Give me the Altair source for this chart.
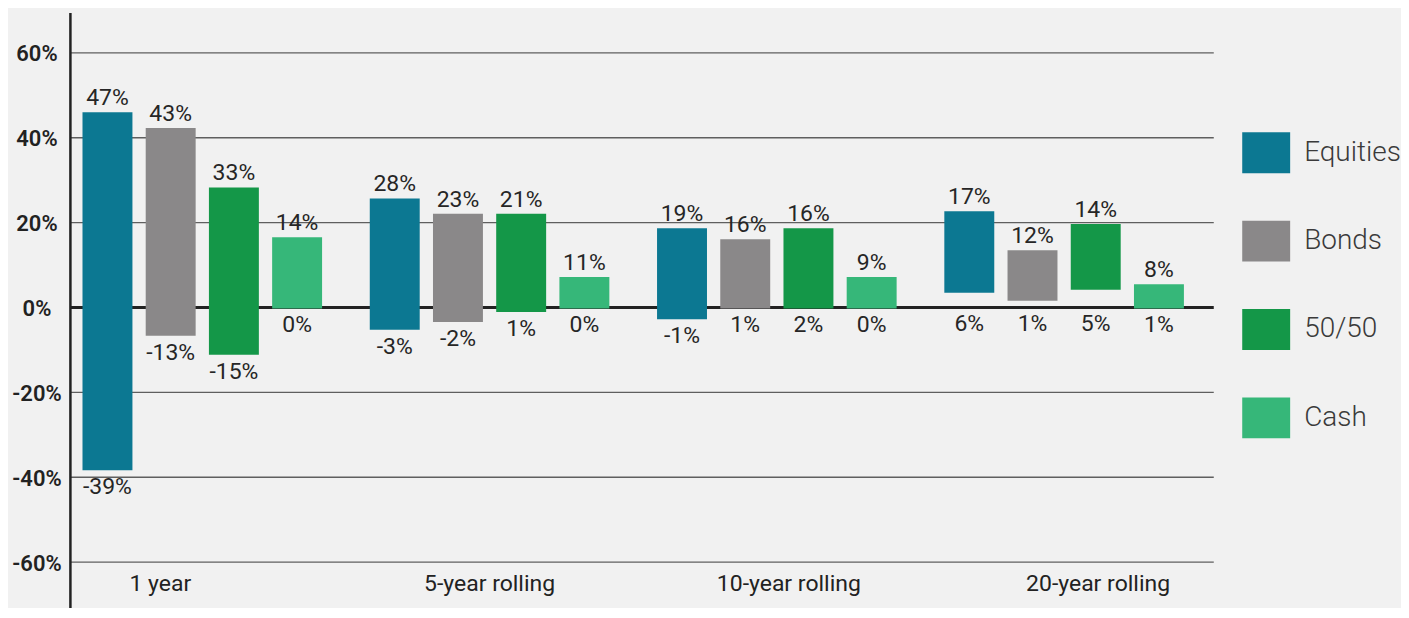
import altair as alt
import pandas as pd

periods = ["1 year", "5-year rolling", "10-year rolling", "20-year rolling"]
assets = ["Equities", "Bonds", "50/50", "Cash"]
colors = ["#0c7892", "#8a8889", "#149748", "#36b779"]

# bar extents (%) as drawn
bar_high = {
    "Equities": [45.8, 25.5, 18.5, 22.5],
    "Bonds": [42.1, 21.9, 15.9, 13.3],
    "50/50": [28.1, 21.9, 18.5, 19.5],
    "Cash": [16.4, 7.0, 7.0, 5.3],
}
bar_low = {
    "Equities": [-38.5, -5.4, -2.9, 3.3],
    "Bonds": [-6.8, -3.6, -0.4, 1.4],
    "50/50": [-11.3, -1.2, -0.4, 4.0],
    "Cash": [-0.4, -0.4, -0.4, -0.4],
}
# printed labels (%)
label_high = {
    "Equities": [47, 28, 19, 17],
    "Bonds": [43, 23, 16, 12],
    "50/50": [33, 21, 16, 14],
    "Cash": [14, 11, 9, 8],
}
label_low = {
    "Equities": [-39, -3, -1, 6],
    "Bonds": [-13, -2, 1, 1],
    "50/50": [-15, 1, 2, 5],
    "Cash": [0, 0, 0, 1],
}
y_ticks = [-60, -40, -20, 0, 20, 40, 60]

rows = []
for a in assets:
    for i, p in enumerate(periods):
        rows.append({
            "period": p,
            "asset": a,
            "low": bar_low[a][i],
            "high": bar_high[a][i],
            "hi_label": f"{label_high[a][i]}%",
            "lo_label": f"{label_low[a][i]}%",
        })
df = pd.DataFrame(rows)

FONT = "Roboto"

x_enc = alt.X(
    "period:N",
    sort=periods,
    scale=alt.Scale(paddingInner=0.166, paddingOuter=0.073, align=0.3),
    axis=alt.Axis(
        title=None, orient="bottom", domain=False, ticks=False, tickSize=0,
        labelPadding=0, offset=-35, labelAngle=0, labelFont=FONT,
        labelFontSize=23, labelColor="#222222", grid=False,
        labelOffset={
            "condition": [
                {"test": "datum.value === '1 year'", "value": -42},
                {"test": "datum.value === '10-year rolling'", "value": 12},
                {"test": "datum.value === '20-year rolling'", "value": 34},
            ],
            "value": 0,
        },
    ),
)
xoff_enc = alt.XOffset("asset:N", sort=assets, scale=alt.Scale(paddingInner=0.21, paddingOuter=0))

y_scale = alt.Scale(domain=[-70.8, 69.3], nice=False, zero=False)
y_axis = alt.Axis(
    title=None, values=y_ticks, labelExpr="datum.value + '%'",
    domainColor="#222222", domainWidth=2.5, ticks=False, tickSize=0,
    labelPadding=33.5, labelAlign="center", labelFont=FONT, labelFontSize=22,
    labelFontWeight=600, labelColor="#222222", minExtent=60, maxExtent=60,
    labelOffset=2,
    gridColor={"condition": {"test": "datum.value === 0", "value": "#222222"}, "value": "#5f5f5f"},
    gridWidth={"condition": {"test": "datum.value === 0", "value": 3}, "value": 1.3},
)

base = alt.Chart(df)

bars = base.mark_bar().encode(
    x=x_enc,
    xOffset=xoff_enc,
    y=alt.Y("low:Q", scale=y_scale, axis=y_axis),
    y2="high:Q",
    color=alt.Color(
        "asset:N", sort=assets,
        scale=alt.Scale(domain=assets, range=colors),
        legend=alt.Legend(
            title=None, orient="none", legendX=1174, legendY=116.5,
            symbolType="M-1,-0.854H1V0.854H-1Z", symbolSize=2304,
            symbolStrokeWidth=0, symbolOpacity=1, labelFontSize=28,
            labelFont=FONT, labelFontWeight=300, labelColor="#3a3a3a",
            rowPadding=43.5, labelOffset=14, padding=0,
        ),
    ),
)

top_text = base.mark_text(
    baseline="alphabetic", dy=-7, fontSize=23, font=FONT, color="#262626"
).encode(
    x=x_enc, xOffset=xoff_enc,
    y=alt.Y("high:Q", scale=y_scale, axis=y_axis),
    text="hi_label:N",
)

bottom_text = base.transform_calculate(
    anchor="min(datum.low, 0)"
).mark_text(
    baseline="top", dy=6, fontSize=23, font=FONT, color="#262626"
).encode(
    x=x_enc, xOffset=xoff_enc,
    y=alt.Y("anchor:Q", scale=y_scale, axis=y_axis),
    text="lo_label:N",
)

chart = alt.layer(bars, top_text, bottom_text).properties(
    width=1145, height=596,
    padding={"left": 2, "top": 4, "right": 0, "bottom": 0},
    background="#f1f1f1",
).configure_view(stroke=None)

chart.save("out.html", embed_options={"renderer": "svg", "actions": False})
